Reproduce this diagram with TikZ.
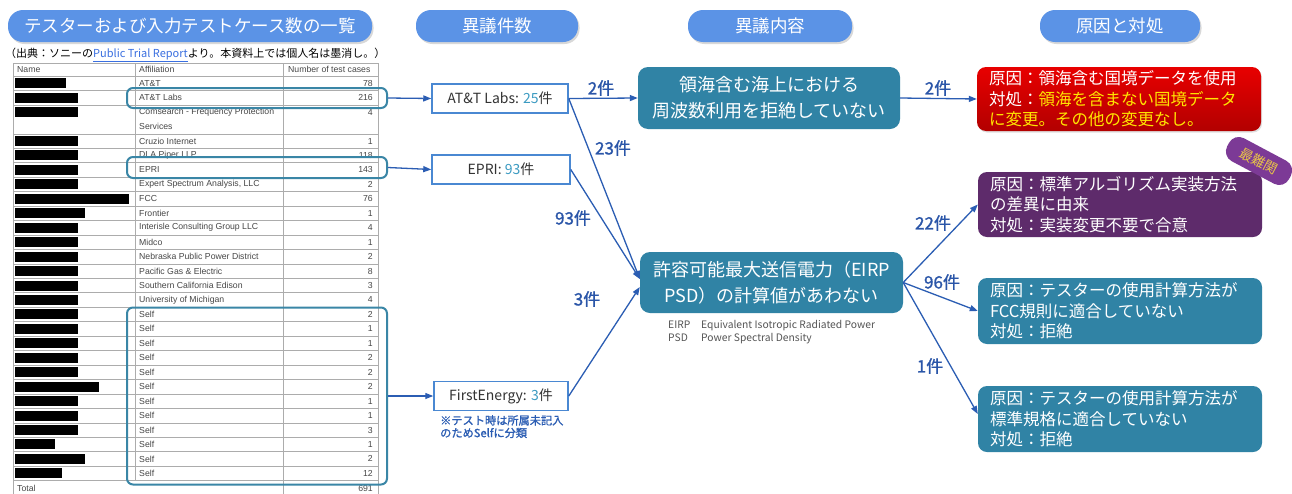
\documentclass[tikz,border=0pt]{standalone}
\usepackage{fontspec}
\setmainfont{Noto Sans CJK JP}
\newfontfamily\tabfont{Liberation Sans}
\newfontfamily\semib[FakeBold=1.2]{Noto Sans CJK JP}
\usetikzlibrary{arrows.meta,shadows}
\definecolor{pillblue}{HTML}{5B93E6}
\definecolor{hlteal}{HTML}{3A86A6}
\definecolor{boxblue}{HTML}{4A88D2}
\definecolor{tealbox}{HTML}{3083A5}
\definecolor{arrblue}{HTML}{2B5DB3}
\definecolor{lblblue}{HTML}{2A55A8}
\definecolor{numteal}{HTML}{3C9BC2}
\definecolor{txtgray}{HTML}{333333}
\definecolor{linkblue}{HTML}{3A6FE0}
\definecolor{redtop}{HTML}{E80000}
\definecolor{redbot}{HTML}{B20000}
\definecolor{purp}{HTML}{5E2B6B}
\definecolor{badgec}{HTML}{7C3A96}
\definecolor{goldc}{HTML}{E8C547}
\definecolor{yel}{HTML}{FFE600}
\definecolor{notegray}{HTML}{555555}
\tikzset{
 pill/.style={rounded corners=15pt, fill=pillblue, text=white, font=\fontsize{17.5}{20}\selectfont, minimum height=32pt, inner sep=0pt, drop shadow={opacity=0.3,shadow xshift=1.5pt,shadow yshift=-2pt}},
 hl/.style={draw=hlteal, line width=2pt, rounded corners=6pt, inner sep=0pt},
 srcbox/.style={draw=boxblue, line width=1.5pt, fill=white, minimum height=29pt, inner sep=0pt, font=\fontsize{14}{16}\selectfont, text=txtgray},
 cbox/.style={fill=tealbox, rounded corners=10pt, text=white, align=center, font=\fontsize{18}{26}\selectfont, inner sep=0pt},
 rbox/.style={rounded corners=9pt, text=white, align=left, text width=260pt, inner xsep=12pt, inner ysep=0pt, minimum height=65pt, font=\fontsize{16.5}{20.5}\selectfont},
 arr/.style={draw=arrblue, line width=1.3pt, -{Triangle[length=8pt,width=6pt]}},
 cnt/.style={text=lblblue, font=\semib\fontsize{17}{20}\selectfont, inner sep=0pt},
 tline/.style={draw=gray!65, line width=0.6pt},
 ttext/.style={font=\tabfont\fontsize{8.7}{9}\selectfont, text=black!72, inner sep=0pt},
}
\begin{document}
\begin{tikzpicture}[x=1pt,y=-1pt]
\useasboundingbox (0,0) rectangle (1292,493);
\fill[white] (0,0) rectangle (1292,493);

% header pills
\node[pill, minimum width=364pt] (h1) at (190,26) {テスターおよび入力テストケース数の一覧};
\node[pill, minimum width=162pt] (h2) at (497,26) {異議件数};
\node[pill, minimum width=164pt] (h3) at (770,26) {異議内容};
\node[pill, minimum width=160pt] (h4) at (1120,26) {原因と対処};

% source line
\node[anchor=west, inner sep=0pt, font=\fontsize{11}{12}\selectfont] (src) at (5,55) {（出典：ソニーの\textcolor{linkblue}{\underline{Public Trial Report}}より。本資料上では個人名は墨消し。）};

% table lines
\draw[tline] (13,63) -- (378,63);
\foreach \k in {0,1,2,4,5,6,7,8,9,10,11,12,13,14,15,16,17,18,19,20,21,22,23,24,25,26,27,28,29}{
  \pgfmathsetmacro\yl{76+\k*14.45}
  \draw[tline] (13,\yl) -- (378,\yl);
}
\draw[tline] (13,63) -- (13,495);
\draw[tline] (135,63) -- (135,480.6);
\draw[tline] (283,63) -- (283,495);
\draw[tline] (378,63) -- (378,495);

% table header
\node[ttext, anchor=west] (thn) at (17,69.5) {Name};
\node[ttext, anchor=west] (tha) at (139,69.5) {Affiliation};
\node[ttext, anchor=west] (thc) at (288,69.5) {Number of test cases};

% table rows
\foreach \k/\aff/\num/\bw in {1/AT\&T/78/66, 2/AT\&T Labs/216/78, 3/Comsearch - Frequency Protection/4/78, 5/Cruzio Internet/1/78, 6/DLA Piper LLP/118/78, 7/EPRI/143/78, 8/{Expert Spectrum Analysis, LLC}/2/78, 9/FCC/76/129, 10/Frontier/1/85, 11/Interisle Consulting Group LLC/4/78, 12/Midco/1/78, 13/Nebraska Public Power District/2/78, 14/Pacific Gas \& Electric/8/78, 15/Southern California Edison/3/78, 16/University of Michigan/4/78, 17/Self/2/78, 18/Self/1/78, 19/Self/1/78, 20/Self/2/78, 21/Self/2/78, 22/Self/2/99, 23/Self/1/78, 24/Self/1/78, 25/Self/3/78, 26/Self/1/55, 27/Self/2/85, 28/Self/12/62}{
  \pgfmathsetmacro\yy{76+(\k-0.5)*14.45}
  \fill[black] (15,\yy-5) rectangle (\bw,\yy+5);
  \node[ttext, anchor=west] (aff\k) at (139,\yy) {\aff};
  \node[ttext, anchor=east] (num\k) at (373,\yy) {\num};
}
\node[ttext, anchor=west] (aff4) at (139,126.6) {Services};
\node[ttext, anchor=west] (tot) at (17,488) {Total};
\node[ttext, anchor=east] (totn) at (373,488) {691};

% highlight boxes
\node[hl, minimum width=260pt, minimum height=20pt] (hlatt) at (257,98) {};
\node[hl, minimum width=260pt, minimum height=21pt] (hlepri) at (257,167.5) {};
\node[hl, minimum width=260pt, minimum height=177pt] (hlself) at (257,396) {};

% source boxes
\node[srcbox, minimum width=136pt] (att) at (500,98.5) {AT\&T Labs: \textcolor{numteal}{25}件};
\node[srcbox, minimum width=138pt] (epri) at (501,169.5) {EPRI: \textcolor{numteal}{93}件};
\node[srcbox, minimum width=134pt] (fe) at (501,396) {FirstEnergy: \textcolor{numteal}{3}件};
\node[anchor=north west, inner sep=0pt, align=left, text=arrblue, font=\semib\fontsize{11.2}{12.5}\selectfont] (fenote) at (440,415) {※テスト時は所属未記入\\のためSelfに分類};

% center boxes
\node[cbox, minimum width=262pt, minimum height=62pt] (c1) at (769,98) {領海含む海上における\\周波数利用を拒絶していない};
\node[cbox, minimum width=263pt, minimum height=61pt] (c2) at (771.5,282.5) {許容可能最大送信電力（EIRP\\PSD）の計算値があわない};
\node[anchor=north west, inner sep=0pt, text=notegray, font=\fontsize{10.3}{12.5}\selectfont] (abbr) at (668,320) {\begin{tabular}{@{}p{25pt}@{\hspace{8pt}}l@{}}EIRP & Equivalent Isotropic Radiated Power\\PSD & Power Spectral Density\end{tabular}};

% right boxes
\node[rbox, top color=redtop, bottom color=redbot, minimum height=64pt, drop shadow={opacity=0.25,shadow xshift=1pt,shadow yshift=-1.5pt}] (rred) at (1119,99) {原因：領海含む国境データを使用\\対処：\textcolor{yel}{領海を含まない国境データ}\\\textcolor{yel}{に変更。その他の変更なし。}};
\node[rbox, fill=purp] (rpur) at (1120,204.5) {原因：標準アルゴリズム実装方法\\の差異に由来\\対処：実装変更不要で合意};
\node[rbox, fill=tealbox, minimum height=66pt] (rt1) at (1120,311) {原因：テスターの使用計算方法が\\FCC規則に適合していない\\対処：拒絶};
\node[rbox, fill=tealbox, minimum height=66pt] (rt2) at (1120,419) {原因：テスターの使用計算方法が\\標準規格に適合していない\\対処：拒絶};
\node[fill=badgec, rounded corners=11pt, rotate=-28, minimum width=70pt, minimum height=26pt, inner sep=0pt, text=goldc, font=\fontsize{13.5}{15}\selectfont] (badge) at (1259,161) {最難関};

% connectors
\draw[arr] (hlatt.east) -- (att.west);
\draw[arr] (hlepri.east) -- (epri.west);
\draw[arr] (hlself.east) -- (fe.west);
\draw[arr] (att.east) -- (c1.west);
\draw[arr] (att.east) -- ([yshift=3.5pt]c2.west);
\draw[arr] (epri.east) -- ([yshift=3.5pt]c2.west);
\draw[arr] (fe.east) -- ([yshift=-4.5pt]c2.west);
\draw[arr] (c1.east) -- (rred.west);
\draw[arr] (c2.east) -- (rpur.west);
\draw[arr] (c2.east) -- (rt1.west);
\draw[arr] (c2.east) -- ([yshift=5pt]rt2.west);

% counts
\node[cnt] (l1) at (601,88) {2件};
\node[cnt] (l2) at (613,148) {23件};
\node[cnt] (l3) at (573,218) {93件};
\node[cnt] (l4) at (587,299) {3件};
\node[cnt] (l5) at (938,88) {2件};
\node[cnt] (l6) at (933,223) {22件};
\node[cnt] (l7) at (942,282) {96件};
\node[cnt] (l8) at (930,366) {1件};
\end{tikzpicture}
\end{document}
